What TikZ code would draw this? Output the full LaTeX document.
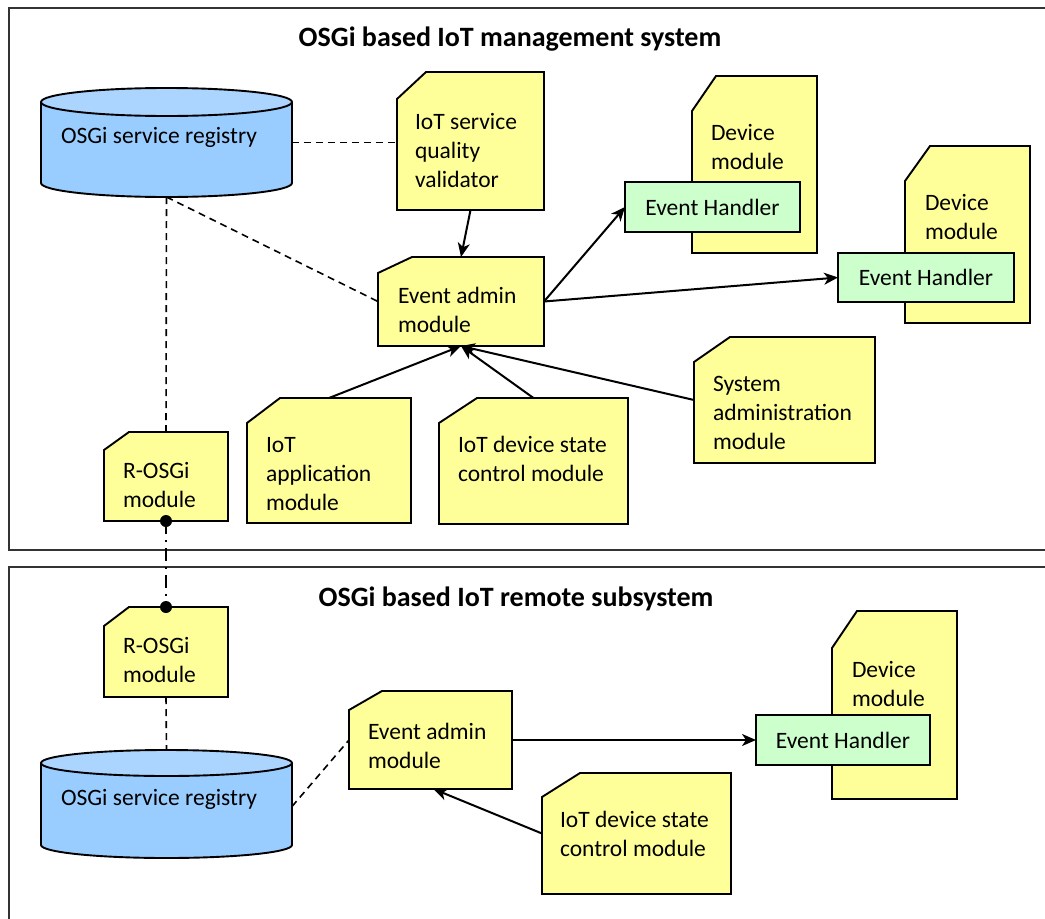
\documentclass[tikz,border=0pt]{standalone}
\usepackage{fontspec}
\setmainfont{Carlito}
\usetikzlibrary{arrows.meta,calc}
\definecolor{noteyellow}{HTML}{FFFF99}
\definecolor{ehgreen}{HTML}{CCFFCC}
\definecolor{cylblue}{HTML}{99CCFF}
\definecolor{cyltop}{HTML}{ABD5FF}
\definecolor{framegray}{HTML}{333333}
\newcommand\txtbox[1]{\parbox[t]{300pt}{\fontsize{23.5}{29}\selectfont #1}}
\newcommand\notepath[3]{%
  \filldraw[noteline] ([yshift=-#3pt]#1.north west) -- ([xshift=#2pt]#1.north west) -- (#1.north east) -- (#1.south east) -- (#1.south west) -- cycle;}
\tikzset{
  shapebox/.style={inner sep=0pt, outer sep=0pt, draw=none},
  noteline/.style={fill=noteyellow, draw=black, line width=1.9pt, line join=miter},
  ehbox/.style={fill=ehgreen, draw=black, line width=1.9pt, inner sep=0pt, outer sep=0pt,
    font=\fontsize{23.5}{29}\selectfont},
  txt/.style={inner sep=0pt, outer sep=0pt, anchor=base west},
  ttl/.style={inner sep=0pt, outer sep=0pt, anchor=base, font=\fontsize{28}{32}\selectfont\bfseries},
  frameline/.style={draw=framegray, line width=1.5pt},
  dashline/.style={line width=1.6pt, dash pattern=on 7pt off 5pt},
  dashdotline/.style={line width=1.6pt, dash pattern=on 13pt off 6pt on 2pt off 6pt},
  arr/.style={line width=2pt, -{Stealth[length=14pt,width=12pt,inset=4pt]}},
  cylfill/.style={fill=cylblue},
  cyltopfill/.style={fill=cyltop, draw=black, line width=1.9pt},
}
\begin{document}
\begin{tikzpicture}[x=1pt,y=-1pt]
\useasboundingbox (0,0) rectangle (1045,919);
% frames
\draw[frameline] (1060,8) -- (9,8) -- (9,550) -- (1060,550);
\draw[frameline] (1060,567) -- (9,567) -- (9,930);
\node[ttl] (title1) at (510,46) {OSGi based IoT management system};
\node[ttl] (title2) at (516,606) {OSGi based IoT remote subsystem};

% cylinders
\node[shapebox, minimum width=251pt, minimum height=109pt] (reg1) at (166.5,142.5) {};
\fill[cylfill] (41,102) -- (41,183) arc[start angle=180,end angle=360,x radius=125.5pt,y radius=14pt] -- (292,102) -- cycle;
\draw[line width=1.9pt] (41,102) -- (41,183) arc[start angle=180,end angle=360,x radius=125.5pt,y radius=14pt] -- (292,102);
\draw[cyltopfill] (166.5,102) ellipse[x radius=125.5pt,y radius=14pt];
\node[inner sep=0pt, anchor=base, font=\fontsize{23.5}{29}\selectfont] (reg1T) at (159,143) {OSGi service registry};

\node[shapebox, minimum width=251pt, minimum height=107pt] (reg2) at (166.5,803.5) {};
\fill[cylfill] (41,763) -- (41,845) arc[start angle=180,end angle=360,x radius=125.5pt,y radius=13pt] -- (292,763) -- cycle;
\draw[line width=1.9pt] (41,763) -- (41,845) arc[start angle=180,end angle=360,x radius=125.5pt,y radius=13pt] -- (292,763);
\draw[cyltopfill] (166.5,763) ellipse[x radius=125.5pt,y radius=13pt];
\node[inner sep=0pt, anchor=base, font=\fontsize{23.5}{29}\selectfont] (reg2T) at (159,805) {OSGi service registry};

% note boxes
\node[shapebox, minimum width=147pt, minimum height=138pt] (val) at (470.5,141) {};
\notepath{val}{29}{27}
\node[txt] (valT) at (415,129) {\txtbox{IoT service\\quality\\validator}};

\node[shapebox, minimum width=166pt, minimum height=89pt] (ea) at (461,301.5) {};
\notepath{ea}{34}{16}
\node[txt] (eaT) at (398,303) {\txtbox{Event admin\\module}};

\node[shapebox, minimum width=125pt, minimum height=177pt] (dm1) at (754.5,164.5) {};
\notepath{dm1}{24}{35}
\node[txt] (dm1T) at (711,140) {\txtbox{Device\\module}};
\node[ehbox, minimum width=175pt, minimum height=50pt] (eh1) at (712.5,207) {Event Handler};

\node[shapebox, minimum width=125pt, minimum height=177pt] (dm2) at (967.5,234.5) {};
\notepath{dm2}{25}{35}
\node[txt] (dm2T) at (925,210) {\txtbox{Device\\module}};
\node[ehbox, minimum width=176pt, minimum height=49pt] (eh2) at (926,277.5) {Event Handler};

\node[shapebox, minimum width=181pt, minimum height=126pt] (sys) at (784.5,400) {};
\notepath{sys}{36}{25}
\node[txt] (sysT) at (713,391) {\txtbox{System\\administration\\module}};

\node[shapebox, minimum width=164pt, minimum height=125pt] (app) at (329,460.5) {};
\notepath{app}{33}{25}
\node[txt] (appT) at (266,452) {\txtbox{IoT\\application\\module}};

\node[shapebox, minimum width=189pt, minimum height=126pt] (ds1) at (533.5,461) {};
\notepath{ds1}{38}{25}
\node[txt] (ds1T) at (458,452) {\txtbox{IoT device state\\control module}};

\node[shapebox, minimum width=124pt, minimum height=89pt] (rosgi1) at (166,476.5) {};
\notepath{rosgi1}{25}{18}
\node[txt] (rosgi1T) at (123,478) {\txtbox{R-OSGi\\module}};

\node[shapebox, minimum width=124pt, minimum height=90pt] (rosgi2) at (166,652) {};
\notepath{rosgi2}{25}{19}
\node[txt] (rosgi2T) at (123,653) {\txtbox{R-OSGi\\module}};

\node[shapebox, minimum width=163pt, minimum height=98pt] (ea2) at (430.5,740) {};
\notepath{ea2}{33}{19}
\node[txt] (ea2T) at (368,739) {\txtbox{Event admin\\module}};

\node[shapebox, minimum width=189pt, minimum height=121pt] (ds2) at (636.5,833.5) {};
\notepath{ds2}{38}{24}
\node[txt] (ds2T) at (560,827) {\txtbox{IoT device state\\control module}};

\node[shapebox, minimum width=125pt, minimum height=188pt] (dm3) at (894.5,705) {};
\notepath{dm3}{25}{37}
\node[txt] (dm3T) at (852,677) {\txtbox{Device\\module}};
\node[ehbox, minimum width=174pt, minimum height=50pt] (eh3) at (843,740) {Event Handler};

% connectors
\draw[dashline] (reg1.east) -- (reg1.east -| val.west);
\draw[dashline] (reg1.south) -- (ea.west);
\draw[dashline] (reg1.south) -- (rosgi1.north);
\draw[dashdotline] (rosgi1.south) -- (rosgi2.north);
\fill (rosgi1.south) circle[radius=6pt];
\fill (rosgi2.north) circle[radius=6pt];
\draw[dashline] (rosgi2.south) -- (reg2.north);
\draw[dashline] ([yshift=-3pt]reg2.east) -- (ea2.west);

\draw[arr] (val.south) -- (ea.north);
\draw[arr] (ea.east) -- (eh1.west);
\draw[arr] (ea.east) -- (eh2.west);
\draw[arr] (app.north) -- (ea.south);
\draw[arr] (ds1.north) -- (ea.south);
\draw[arr] (sys.west) -- (ea.south);
\draw[arr] (ea2.east) -- (eh3.west);
\draw[arr] (ds2.west) -- ([xshift=3pt]ea2.south);
\end{tikzpicture}
\end{document}
